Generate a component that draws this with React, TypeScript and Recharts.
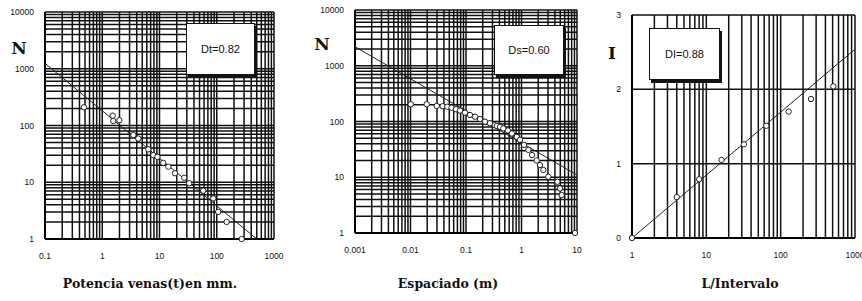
import { ScatterChart, Scatter, XAxis, YAxis, CartesianGrid } from "recharts";

// Panel 1: Potencia de venas (mm) vs N
const venasX = [0.48, 1.52, 1.56, 1.99, 3.5, 4.27, 6.37, 7.8, 9.2, 11.6, 14.3, 18.6, 27, 33, 58, 87, 106, 149, 273];
const venasN = [209, 149, 120, 124, 68, 59, 38, 30, 28, 22, 18.8, 14.4, 12, 9.6, 7.1, 5.2, 3.0, 2.0, 1];
const venasFitX = [0.1, 500];
const venasFitN = [1250, 1];

// Panel 2: Espaciado (m) vs N
const espX = [0.0101, 0.0196, 0.0297, 0.038, 0.046, 0.055, 0.066, 0.078, 0.096, 0.118, 0.145, 0.179, 0.22, 0.27, 0.33, 0.36, 0.41, 0.47, 0.57, 0.67, 0.82, 0.94, 1.11, 1.33, 1.55, 1.88, 2.15, 2.47, 3.04, 4.42, 4.94, 5.3, 9.2];
const espN = [204, 204, 190, 188, 184, 177, 166, 157, 144, 131, 122, 111, 99, 93, 86, 83, 80, 75, 69, 61, 53, 47, 38, 31, 25, 20, 16.6, 13.5, 10.2, 8.3, 6.3, 4.8, 1];
const espFitX = [0.001, 10];
const espFitN = [2190, 11];

// Panel 3: L/Intervalo vs I
const intL = [1, 4, 8, 16, 32, 64, 128, 256, 512];
const intI = [0, 0.55, 0.79, 1.05, 1.26, 1.51, 1.7, 1.87, 2.04];
const intFitL = [1, 1000];
const intFitI = [0, 2.54];

const nTicks = [1, 10, 100, 1000, 10000];
const nLabels = ["1", "10", "100", "1000", "10000"];
const venasTicks = [0.1, 1, 10, 100, 1000];
const venasLabels = ["0.1", "1", "10", "100", "1000"];
const espTicks = [0.001, 0.01, 0.1, 1, 10];
const espLabels = ["0.001", "0.01", "0.1", "1", "10"];
const lTicks = [1, 10, 100, 1000];
const lLabels = ["1", "10", "100", "1000"];
const iTicks = [0, 1, 2, 3];
const iLabels = ["0", "1", "2", "3"];

const zip = (xs: number[], ys: number[]) => xs.map((x, i) => ({ x, y: ys[i] }));

// minor gridlines for log paper (2..9 in each decade)
const withMinors = (majors: number[]) => {
  const out = [...majors];
  for (let i = 0; i < majors.length - 1; i++)
    for (let k = 2; k <= 9; k++) out.push(majors[i] * k);
  return out.sort((a, b) => a - b);
};

const Ring = (p: any) => (
  <circle cx={p.cx} cy={p.cy} r={2.7} fill="#fff" stroke="#111" strokeWidth={0.9} />
);

const tickStyle = { fontSize: 8.5, fill: "#111", fontFamily: "Liberation Sans, Arial, sans-serif" };

function Panel({
  left, width, margin, xTicks, xLabels, yTicks, yLabels, yLog, points, fit,
}: {
  left: number;
  width: number;
  margin: { top: number; right: number; bottom: number; left: number };
  xTicks: number[];
  xLabels: string[];
  yTicks: number[];
  yLabels: string[];
  yLog: boolean;
  points: { x: number; y: number }[];
  fit: { x: number; y: number }[];
}) {
  const fmt = (majors: number[], labels: string[]) => (v: number) => {
    const i = majors.indexOf(v);
    return i >= 0 ? labels[i] : "";
  };
  return (
    <div style={{ position: "absolute", left, top: 0 }}>
      <ScatterChart width={width} height={301} margin={margin}>
        <CartesianGrid stroke="#111" strokeWidth={1.5} />
        <XAxis
          type="number"
          dataKey="x"
          scale="log"
          domain={[xTicks[0], xTicks[xTicks.length - 1]]}
          ticks={withMinors(xTicks)}
          interval={0}
          tickFormatter={fmt(xTicks, xLabels)}
          tick={tickStyle}
          tickLine={false}
          tickSize={0}
          tickMargin={14}
          height={30}
          axisLine={{ stroke: "#000", strokeWidth: 2 }}
        />
        <YAxis
          type="number"
          dataKey="y"
          scale={yLog ? "log" : "linear"}
          domain={[yTicks[0], yTicks[yTicks.length - 1]]}
          ticks={yLog ? withMinors(yTicks) : yTicks}
          interval={0}
          tickFormatter={fmt(yTicks, yLabels)}
          tick={tickStyle}
          tickLine={false}
          tickSize={0}
          tickMargin={11}
          width={40}
          axisLine={{ stroke: "#000", strokeWidth: 2 }}
        />
        <Scatter data={fit} line={{ stroke: "#222", strokeWidth: 1 }} shape={() => <g />} isAnimationActive={false} />
        <Scatter data={points} shape={Ring} isAnimationActive={false} />
      </ScatterChart>
    </div>
  );
}

const serif = "DejaVu Serif, Liberation Serif, serif";

const Box = ({ x, y, w, h, text }: { x: number; y: number; w: number; h: number; text: string }) => (
  <div
    style={{
      position: "absolute", left: x, top: y, width: w, height: h, background: "#fff",
      border: "1px solid #111", boxShadow: "2px 3px 0 #111", display: "flex",
      alignItems: "center", justifyContent: "center",
      font: "11px 'Liberation Sans', Arial, sans-serif", color: "#111",
    }}
  >
    {text}
  </div>
);

const Caption = ({ cx, cy, text, size }: { cx: number; cy: number; text: string; size: number }) => (
  <div
    style={{
      position: "absolute", left: cx - 150, top: cy - size * 0.65, width: 300, textAlign: "center",
      fontFamily: serif, fontWeight: "bold", fontSize: size, lineHeight: 1.3, color: "#111",
    }}
  >
    {text}
  </div>
);

export default function App() {
  return (
    <div style={{ position: "absolute", left: 0, top: 0, width: 862, height: 301, background: "#fff", overflow: "hidden" }}>
      <Panel
        left={0}
        width={290}
        margin={{ top: 12, right: 16, bottom: 32, left: 5 }}
        xTicks={venasTicks}
        xLabels={venasLabels}
        yTicks={nTicks}
        yLabels={nLabels}
        yLog
        points={zip(venasX, venasN)}
        fit={zip(venasFitX, venasFitN)}
      />
      <Panel
        left={290}
        width={298}
        margin={{ top: 10, right: 11, bottom: 38, left: 25 }}
        xTicks={espTicks}
        xLabels={espLabels}
        yTicks={nTicks}
        yLabels={nLabels}
        yLog
        points={zip(espX, espN)}
        fit={zip(espFitX, espFitN)}
      />
      <Panel
        left={580}
        width={282}
        margin={{ top: 15, right: 7, bottom: 33, left: 12 }}
        xTicks={lTicks}
        xLabels={lLabels}
        yTicks={iTicks}
        yLabels={iLabels}
        yLog={false}
        points={zip(intL, intI)}
        fit={zip(intFitL, intFitI)}
      />
      <Box x={186} y={23} w={67} h={50} text="Dt=0.82" />
      <Box x={494} y={25} w={68} h={48} text="Ds=0.60" />
      <Box x={649} y={28} w={69} h={50} text="DI=0.88" />
      <Caption cx={19} cy={48} text="N" size={17} />
      <Caption cx={322} cy={44} text="N" size={17} />
      <Caption cx={612} cy={53} text="I" size={17} />
      <Caption cx={150} cy={284} text="Potencia venas(t)en mm." size={12.5} />
      <Caption cx={448} cy={284} text="Espaciado (m)" size={12.5} />
      <Caption cx={740} cy={284} text="L/Intervalo" size={12.5} />
    </div>
  );
}
